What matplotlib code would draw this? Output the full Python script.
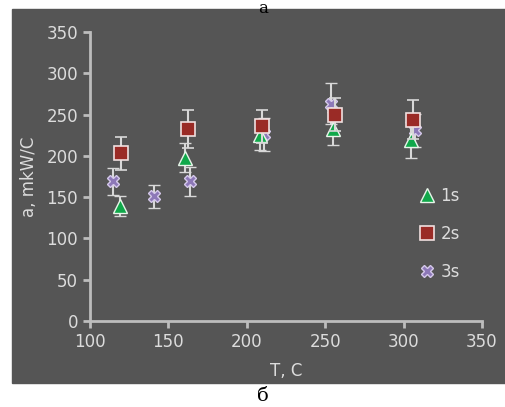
import matplotlib
matplotlib.use("Agg")
import matplotlib.pyplot as plt
from matplotlib.patches import Rectangle

# data
x_1s = [119, 160.5, 208.5, 255, 305]
y_1s = [139, 198, 225, 233, 219]
e_1s = [12, 18, 18, 20, 22]

x_2s = [119.5, 162.5, 209.5, 256.5, 306]
y_2s = [203, 232, 236, 250, 244]
e_2s = [20, 23, 20, 20, 24]

x_3s = [114.5, 141, 164, 211, 254, 307]
y_3s = [169, 151, 169, 226, 263, 231]
e_3s = [16, 14, 18, 20, 25, 20]

labels = ["1s", "2s", "3s"]
fg = "#dcdcdc"

fig = plt.figure(figsize=(5.06, 4.07), dpi=100)
fig.patches.append(Rectangle((12 / 506, 24 / 407), 1 - 12 / 506, 374 / 407,
                             transform=fig.transFigure, color="#555555", zorder=-10))
fig.text(0.52, 1.0, "a", ha="center", va="top", fontsize=12, family="DejaVu Serif")
fig.text(0.52, 0.028, "б", ha="center", va="center", fontsize=14, family="DejaVu Serif")

ax = fig.add_axes([90 / 506, 86 / 407, 392 / 506, 289 / 407])
ax.set_facecolor("none")

ekw = dict(ecolor="#d8d8d8", elinewidth=1.5, capsize=4, capthick=1.5, linestyle="none")
ax.errorbar(x_3s, y_3s, yerr=e_3s, marker="X", ms=9, mfc="#8d78b8", mec="#d4c8ea",
            mew=1, label=labels[2], zorder=3, **ekw)
ax.errorbar(x_1s, y_1s, yerr=e_1s, marker="^", ms=10, mfc="#10a84a", mec="#e8f5ea",
            mew=1, label=labels[0], zorder=4, **ekw)
ax.errorbar(x_2s, y_2s, yerr=e_2s, marker="s", ms=10, mfc="#9a2b26", mec="#f0e0e0",
            mew=1.2, label=labels[1], zorder=5, **ekw)

ax.set_xlim(100, 350)
ax.set_ylim(0, 350)
ax.set_xticks(range(100, 351, 50))
ax.set_yticks(range(0, 351, 50))

for s in ["top", "right"]:
    ax.spines[s].set_visible(False)
for s in ["left", "bottom"]:
    ax.spines[s].set_color("#bdbdbd")
    ax.spines[s].set_linewidth(2)
ax.tick_params(colors="#bdbdbd", labelcolor=fg, labelsize=12, width=2, length=5)

ax.set_xlabel("T, C", color=fg, fontsize=12, labelpad=8)
ax.set_ylabel("a, mkW/C", color=fg, fontsize=12, labelpad=6)

h, l = ax.get_legend_handles_labels()
order = [l.index(n) for n in labels]
leg = ax.legend([h[i][0] for i in order], [l[i] for i in order],
                loc="center left", bbox_to_anchor=(0.805, 0.30), frameon=False,
                labelspacing=1.2, handlelength=0.8, handletextpad=0.4, fontsize=12)
for t in leg.get_texts():
    t.set_color(fg)

fig.savefig("out.png", dpi=100)
